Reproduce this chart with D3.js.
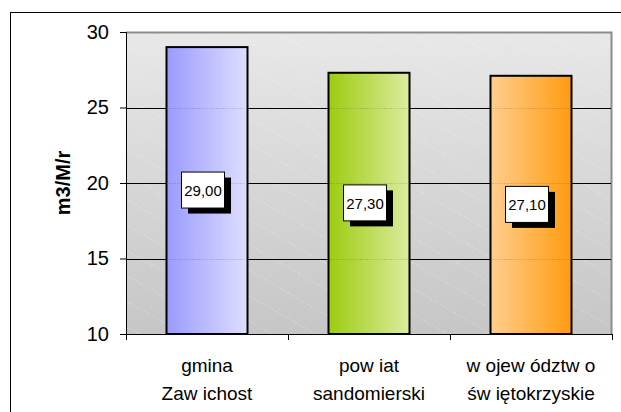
<!DOCTYPE html>
<html>
<head>
<meta charset="utf-8">
<script src="https://cdn.jsdelivr.net/npm/d3@7"></script>
<style>
  html, body { margin: 0; padding: 0; background: #fff; }
  svg { display: block; font-family: "Liberation Sans", Arial, sans-serif; }
</style>
</head>
<body>
<svg id="chart" width="621" height="412"></svg>
<script>
// Water consumption per resident (m3/M/r)
const categories = [
  ["gmina", "Zaw ichost"],
  ["pow iat", "sandomierski"],
  ["w ojew ództw o", "św iętokrzyskie"]
];
const values = [29.00, 27.30, 27.10];
const valueLabels = ["29,00", "27,30", "27,10"];
const yTicks = [10, 15, 20, 25, 30];
const yTitle = "m3/M/r";

// bar gradient stops: [left, right]
const barColors = [
  ["#9a9aff", "#dedeff"],
  ["#9ccc10", "#dcec9e"],
  ["#ffce8e", "#ff9b10"]
];

const svg = d3.select("#chart");
const plot = { left: 126, top: 32, right: 612, bottom: 334 };

const x = d3.scaleBand()
  .domain(d3.range(categories.length))
  .range([plot.left, plot.right])
  .paddingInner(0.5)
  .paddingOuter(0.25);

const xOuter = d3.scaleBand()
  .domain(d3.range(categories.length))
  .range([plot.left, plot.right]);

const y = d3.scaleLinear().domain([10, 30]).range([plot.bottom, plot.top]);

const defs = svg.append("defs");

const bg = defs.append("linearGradient").attr("id", "plotBg")
  .attr("x1", 0).attr("y1", 0).attr("x2", 0).attr("y2", 1);
bg.append("stop").attr("offset", 0).attr("stop-color", "#e8e8e8");
bg.append("stop").attr("offset", 1).attr("stop-color", "#c6c6c6");

const stripes = defs.append("pattern").attr("id", "stripes")
  .attr("patternUnits", "userSpaceOnUse")
  .attr("width", 22).attr("height", 22)
  .attr("patternTransform", "rotate(-60)");
stripes.append("line").attr("x1", 0).attr("y1", 0).attr("x2", 0).attr("y2", 22)
  .attr("stroke", "#ffffff").attr("stroke-opacity", 0.45).attr("stroke-width", 1)
  .attr("stroke-dasharray", "2,2");

barColors.forEach((c, i) => {
  const g = defs.append("linearGradient").attr("id", "bar" + i)
    .attr("x1", 0).attr("y1", 0).attr("x2", 1).attr("y2", 0);
  g.append("stop").attr("offset", 0).attr("stop-color", c[0]);
  g.append("stop").attr("offset", 1).attr("stop-color", c[1]);
});

// outer chart frame
svg.append("rect")
  .attr("x", 10.5).attr("y", 12.5)
  .attr("width", 640).attr("height", 420)
  .attr("fill", "none").attr("stroke", "#000").attr("stroke-width", 1);

// plot area background
svg.append("rect")
  .attr("x", plot.left).attr("y", plot.top)
  .attr("width", plot.right - plot.left).attr("height", plot.bottom - plot.top)
  .attr("fill", "url(#plotBg)");
svg.append("rect")
  .attr("x", plot.left).attr("y", plot.top)
  .attr("width", plot.right - plot.left).attr("height", plot.bottom - plot.top)
  .attr("fill", "url(#stripes)");
// plot area top/right edge
svg.append("path")
  .attr("d", `M${plot.left},${plot.top + 0.5}H${plot.right - 0.5}V${plot.bottom}`)
  .attr("fill", "none").attr("stroke", "#8c8c8c").attr("stroke-width", 2);

// gridlines
const gridVals = yTicks.filter(t => t > 10 && t < 30);
svg.append("g").selectAll("line")
  .data(gridVals)
  .join("line")
  .attr("x1", plot.left).attr("x2", plot.right - 1)
  .attr("y1", d => Math.round(y(d)) + 0.5).attr("y2", d => Math.round(y(d)) + 0.5)
  .attr("stroke", "#000").attr("stroke-width", 1);

// bars
svg.append("g").selectAll("rect")
  .data(values)
  .join("rect")
  .attr("x", (d, i) => x(i))
  .attr("y", d => y(d))
  .attr("width", x.bandwidth())
  .attr("height", d => plot.bottom - y(d))
  .attr("fill", (d, i) => `url(#bar${i})`)
  .attr("stroke", "#000").attr("stroke-width", 2);

// faint dotted gridlines showing through the bars
values.forEach((v, i) => {
  svg.append("g").selectAll("line")
    .data(gridVals.filter(t => t < v))
    .join("line")
    .attr("x1", x(i) + 2).attr("x2", x(i) + x.bandwidth() - 2)
    .attr("y1", d => Math.round(y(d)) + 0.5).attr("y2", d => Math.round(y(d)) + 0.5)
    .attr("stroke", "#000").attr("stroke-opacity", 0.25)
    .attr("stroke-dasharray", "1,2");
});

// y axis
const yAxis = d3.axisLeft(y).tickValues(yTicks).tickSize(6).tickPadding(11);
const gy = svg.append("g").attr("transform", `translate(${plot.left},0)`).call(yAxis);
gy.select(".domain").attr("stroke", "#000");
gy.selectAll("text").attr("font-size", 20).attr("fill", "#000")
  .attr("font-family", "Liberation Sans, Arial, sans-serif");

// x axis baseline and category boundary ticks
const gx = svg.append("g");
gx.append("line")
  .attr("x1", plot.left).attr("x2", plot.right)
  .attr("y1", plot.bottom + 0.5).attr("y2", plot.bottom + 0.5)
  .attr("stroke", "#000");
gx.selectAll("line.tick")
  .data(d3.range(categories.length + 1))
  .join("line").attr("class", "tick")
  .attr("x1", i => Math.round(i < categories.length ? xOuter(i) : plot.right) + 0.5)
  .attr("x2", i => Math.round(i < categories.length ? xOuter(i) : plot.right) + 0.5)
  .attr("y1", plot.bottom).attr("y2", plot.bottom + 6)
  .attr("stroke", "#000");

// category labels
const cat = svg.append("g").selectAll("text")
  .data(categories)
  .join("text")
  .attr("text-anchor", "middle")
  .attr("font-size", 19)
  .attr("fill", "#000");
cat.each(function (lines, i) {
  const t = d3.select(this);
  lines.forEach((ln, k) => {
    t.append("tspan")
      .attr("x", xOuter(i) + xOuter.bandwidth() / 2)
      .attr("y", 372 + k * 28)
      .text(ln);
  });
});

// y title
svg.append("text")
  .attr("transform", `translate(70,${(plot.top + plot.bottom) / 2}) rotate(-90)`)
  .attr("text-anchor", "middle")
  .attr("font-size", 20).attr("font-weight", "bold")
  .text(yTitle);

// value labels with drop shadow boxes
const lbl = svg.append("g").selectAll("g")
  .data(values)
  .join("g")
  .attr("transform", (d, i) => {
    const cx = x(i) + x.bandwidth() / 2 - 4;
    const cy = y((d + 10) / 2);
    return `translate(${cx},${cy})`;
  });
lbl.append("rect")
  .attr("x", -21 + 6).attr("y", -18 + 5)
  .attr("width", 43).attr("height", 36)
  .attr("fill", "#000");
lbl.append("rect")
  .attr("x", -21.5).attr("y", -18.5)
  .attr("width", 43).attr("height", 36)
  .attr("fill", "#fff").attr("stroke", "#000").attr("stroke-width", 1);
lbl.append("text")
  .attr("text-anchor", "middle")
  .attr("y", 5.5)
  .attr("font-size", 15)
  .text((d, i) => valueLabels[i]);
</script>
</body>
</html>
